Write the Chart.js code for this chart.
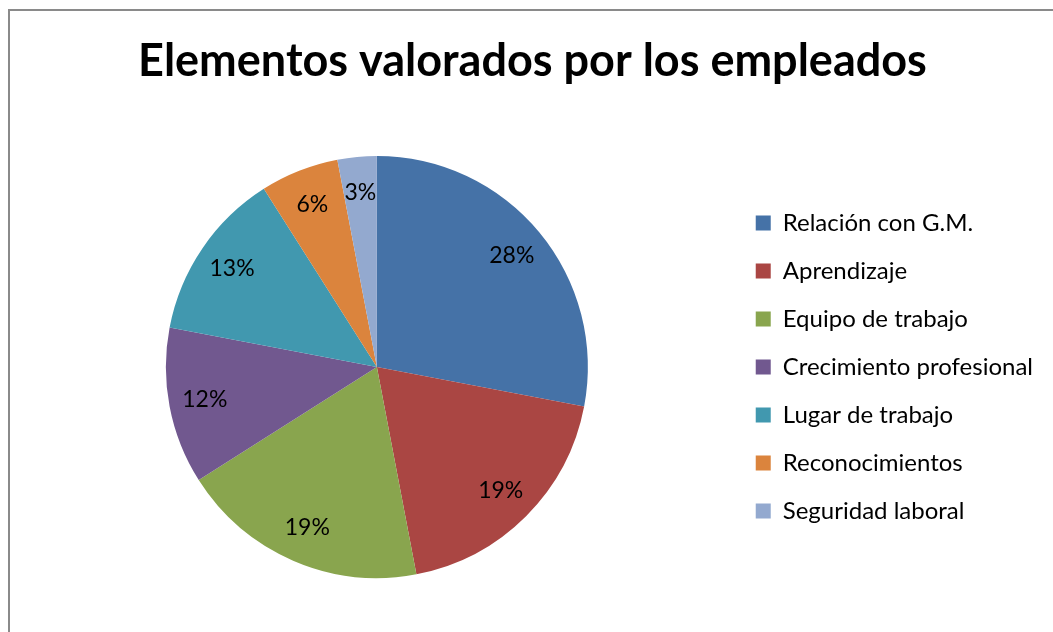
<!DOCTYPE html>
<html>
<head>
<meta charset="utf-8">
<script src="https://cdn.jsdelivr.net/npm/chart.js@4.4.1/dist/chart.umd.min.js"></script>
<style>
  html, body { margin: 0; padding: 0; background: #fff; overflow: hidden; }
  #frame {
    position: absolute; left: 8px; top: 9px; width: 1200px; height: 800px;
    border: 2px solid #8a8a8a; box-sizing: border-box;
  }
  #chart { position: absolute; left: 0; top: 0; }
</style>
</head>
<body>
<div id="frame"></div>
<canvas id="chart" width="1053" height="632"></canvas>
<script>
const categories = [
  'Relación con G.M.',
  'Aprendizaje',
  'Equipo de trabajo',
  'Crecimiento profesional',
  'Lugar de trabajo',
  'Reconocimientos',
  'Seguridad laboral'
];
const shares = [28, 19, 19, 12, 13, 6, 3];
const sliceColors = ['#4572a7', '#aa4643', '#89a54e', '#71588f', '#4198af', '#db843d', '#93a9cf'];

const fontFamily = 'Lato, "Open Sans", sans-serif';

// percentage text inside each slice
const sliceLabels = {
  id: 'sliceLabels',
  afterDatasetsDraw(chart) {
    const { ctx } = chart;
    const meta = chart.getDatasetMeta(0);
    const total = shares.reduce((a, b) => a + b, 0);
    ctx.save();
    ctx.font = `23px ${fontFamily}`;
    ctx.fillStyle = '#000';
    ctx.textAlign = 'center';
    ctx.textBaseline = 'middle';
    meta.data.forEach((arc, i) => {
      const { x, y, startAngle, endAngle, outerRadius } =
        arc.getProps(['x', 'y', 'startAngle', 'endAngle', 'outerRadius'], true);
      const mid = (startAngle + endAngle) / 2;
      const r = outerRadius * 0.83;
      const pct = Math.round(shares[i] / total * 100);
      ctx.fillText(`${pct}%`, x + Math.cos(mid) * r, y + Math.sin(mid) * r);
    });
    ctx.restore();
  }
};

new Chart(document.getElementById('chart'), {
  type: 'pie',
  data: {
    labels: categories,
    datasets: [{
      data: shares,
      backgroundColor: sliceColors,
      borderWidth: 0
    }]
  },
  options: {
    responsive: false,
    animation: false,
    layout: { padding: { left: 22, right: 10, top: 0, bottom: 54 } },
    plugins: {
      title: {
        display: true,
        text: 'Elementos valorados por los empleados',
        color: '#000',
        font: { family: fontFamily, size: 45, weight: 'bold' },
        padding: { top: 34, bottom: 68 }
      },
      legend: {
        position: 'right',
        fullSize: false,
        labels: {
          boxWidth: 15,
          boxHeight: 15,
          padding: 24,
          color: '#000',
          font: { family: fontFamily, size: 24 }
        }
      },
      tooltip: { enabled: false }
    }
  },
  plugins: [sliceLabels]
});
</script>
</body>
</html>
